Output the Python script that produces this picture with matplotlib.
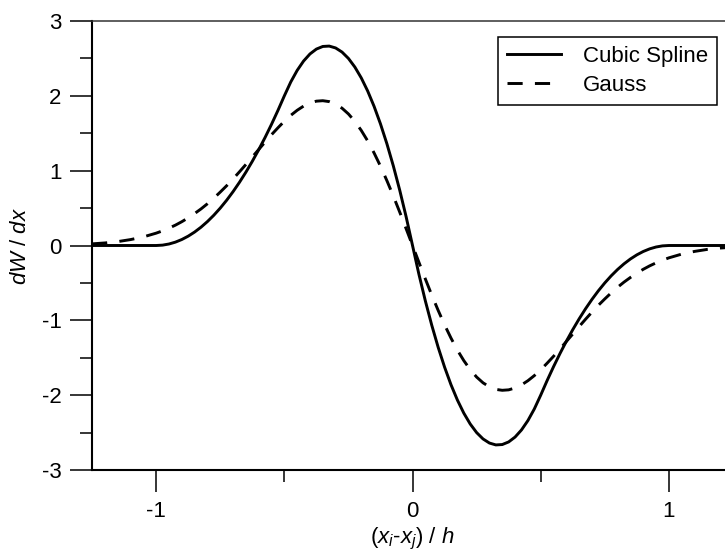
import numpy as np
import matplotlib
matplotlib.use('Agg')
import matplotlib.pyplot as plt

plt.rcParams['font.family'] = ['Liberation Sans', 'DejaVu Sans']
plt.rcParams['mathtext.fontset'] = 'custom'
plt.rcParams['mathtext.rm'] = 'Liberation Sans'
plt.rcParams['mathtext.it'] = 'Liberation Sans:italic'
plt.rcParams['font.size'] = 16

# values
x_spline = [-1.25, -1.2, -1.15, -1.1, -1.05, -1.0,
            -0.975, -0.95, -0.925, -0.9, -0.875, -0.85, -0.825, -0.8, -0.775, -0.75,
            -0.725, -0.7, -0.675, -0.65, -0.625, -0.6, -0.575, -0.55, -0.525, -0.5,
            -0.475, -0.45, -0.425, -0.4, -0.375, -0.35, -0.325, -0.3, -0.275, -0.25,
            -0.225, -0.2, -0.175, -0.15, -0.125, -0.1, -0.075, -0.05, -0.025, 0.0,
            0.025, 0.05, 0.075, 0.1, 0.125, 0.15, 0.175, 0.2, 0.225,
            0.25, 0.275, 0.3, 0.325, 0.35, 0.375, 0.4, 0.425, 0.45, 0.475,
            0.5, 0.525, 0.55, 0.575, 0.6, 0.625, 0.65, 0.675, 0.7, 0.725,
            0.75, 0.775, 0.8, 0.825, 0.85, 0.875, 0.9, 0.925, 0.95, 0.975,
            1.0, 1.05, 1.1, 1.15, 1.2, 1.25]
y_spline = [0.0, 0.0, 0.0, 0.0, 0.0, 0.0,
            0.005, 0.02, 0.045, 0.08, 0.125, 0.18, 0.245, 0.32, 0.405, 0.5,
            0.605, 0.72, 0.845, 0.98, 1.125, 1.28, 1.445, 1.62, 1.805, 2.0,
            2.185, 2.34, 2.465, 2.56, 2.625, 2.66, 2.665, 2.64, 2.585, 2.5,
            2.385, 2.24, 2.065, 1.86, 1.625, 1.36, 1.065, 0.74, 0.385, 0.0,
            -0.385, -0.74, -1.065, -1.36, -1.625, -1.86, -2.065, -2.24, -2.385,
            -2.5, -2.585, -2.64, -2.665, -2.66, -2.625, -2.56, -2.465, -2.34, -2.185,
            -2.0, -1.805, -1.62, -1.445, -1.28, -1.125, -0.98, -0.845, -0.72, -0.605,
            -0.5, -0.405, -0.32, -0.245, -0.18, -0.125, -0.08, -0.045, -0.02, -0.005,
            0.0, 0.0, 0.0, 0.0, 0.0, 0.0]

x_gauss = [-1.25, -1.2, -1.15, -1.1, -1.05, -1.0,
           -0.975, -0.95, -0.925, -0.9, -0.875, -0.85, -0.825, -0.8, -0.775, -0.75,
           -0.725, -0.7, -0.675, -0.65, -0.625, -0.6, -0.575, -0.55, -0.525, -0.5,
           -0.475, -0.45, -0.425, -0.4, -0.375, -0.35, -0.325, -0.3, -0.275, -0.25,
           -0.225, -0.2, -0.175, -0.15, -0.125, -0.1, -0.075, -0.05, -0.025, 0.0,
           0.025, 0.05, 0.075, 0.1, 0.125, 0.15, 0.175, 0.2, 0.225,
           0.25, 0.275, 0.3, 0.325, 0.35, 0.375, 0.4, 0.425, 0.45, 0.475,
           0.5, 0.525, 0.55, 0.575, 0.6, 0.625, 0.65, 0.675, 0.7, 0.725,
           0.75, 0.775, 0.8, 0.825, 0.85, 0.875, 0.9, 0.925, 0.95, 0.975,
           1.0, 1.05, 1.1, 1.15, 1.2, 1.25]
y_gauss = [0.022, 0.034, 0.052, 0.079, 0.115, 0.165,
           0.196, 0.232, 0.272, 0.318, 0.370, 0.427, 0.489, 0.558, 0.633, 0.714,
           0.799, 0.890, 0.985, 1.083, 1.183, 1.283, 1.383, 1.481, 1.573, 1.661,
           1.739, 1.807, 1.863, 1.904, 1.929, 1.935, 1.923, 1.889, 1.835, 1.758,
           1.659, 1.538, 1.398, 1.237, 1.060, 0.867, 0.662, 0.447, 0.225, 0.0,
           -0.225, -0.447, -0.662, -0.867, -1.060, -1.237, -1.398, -1.538, -1.659,
           -1.758, -1.835, -1.889, -1.923, -1.935, -1.929, -1.904, -1.863, -1.807, -1.739,
           -1.661, -1.573, -1.481, -1.383, -1.283, -1.183, -1.083, -0.985, -0.890, -0.799,
           -0.714, -0.633, -0.558, -0.489, -0.427, -0.370, -0.318, -0.272, -0.232, -0.196,
           -0.165, -0.115, -0.079, -0.052, -0.034, -0.022]

fig = plt.figure(figsize=(7.25, 5.56), dpi=100)
ax = fig.add_axes([0.127, 0.1547, 0.884, 0.8075])

ax.plot(x_spline, y_spline, color='black', lw=2.1, label='Cubic Spline')
ax.plot(x_gauss, y_gauss, color='black', lw=2.1, linestyle=(0, (5.2, 4.2)), label='Gauss')

ax.set_xlim(-1.25, 1.25)
ax.set_ylim(-3, 3)
ax.set_xticks([-1, 0, 1])
ax.set_xticklabels(['-1', '0', '1'])
ax.set_xticks([-0.5, 0.5], minor=True)
ax.set_yticks([-3, -2, -1, 0, 1, 2, 3])
ax.set_yticklabels(['-3', '-2', '-1', '0', '1', '2', '3'])
ax.set_yticks([-2.5, -1.5, -0.5, 0.5, 1.5, 2.5], minor=True)

ax.tick_params(which='major', direction='out', length=16, width=1.1, pad=6, labelsize=16)
ax.tick_params(which='minor', direction='out', length=8.5, width=1.1)

ax.spines['left'].set_linewidth(1.5)
ax.spines['bottom'].set_linewidth(1.5)
ax.spines['top'].set_linewidth(1.1)
ax.spines['top'].set_color('#333333')
ax.spines['right'].set_visible(False)

ax.set_xlabel(r'($x_i$-$x_j$) / $h$', fontsize=16, labelpad=3)
ax.set_ylabel(r'$dW$ / $dx$', fontsize=16, labelpad=8)

leg = ax.legend(loc='upper right', bbox_to_anchor=(0.975, 0.964), borderaxespad=0,
                fancybox=False, framealpha=1, edgecolor='black', fontsize=16,
                handlelength=2.4, handletextpad=1.0, labelspacing=0.35, borderpad=0.4)
leg.get_frame().set_linewidth(1.1)

fig.savefig('out.png', dpi=100)
